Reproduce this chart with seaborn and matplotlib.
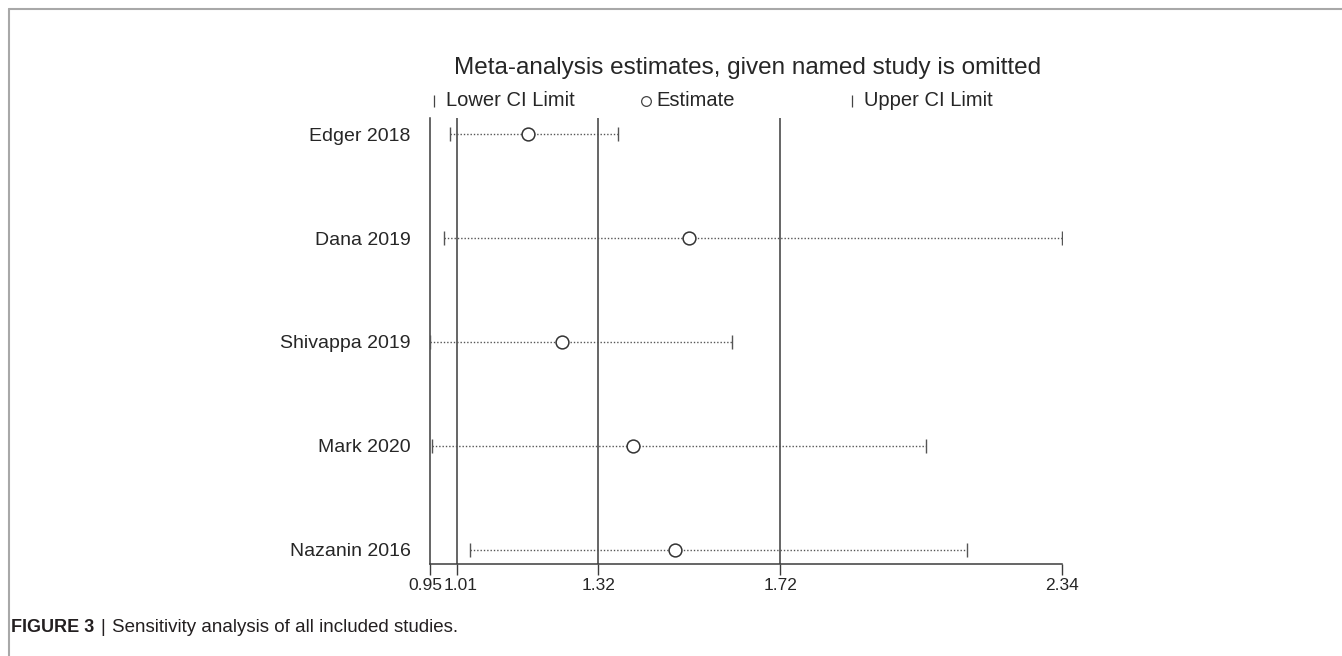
import matplotlib
matplotlib.use('Agg')
import matplotlib.pyplot as plt
import matplotlib.transforms as mtransforms
from matplotlib.lines import Line2D
import seaborn as sns
import pandas as pd

# data: estimate with each study omitted
studies = ['Edger 2018', 'Dana 2019', 'Shivappa 2019', 'Mark 2020', 'Nazanin 2016']
lower = [0.994, 0.981, 0.950, 0.954, 1.038]
estimate = [1.165, 1.520, 1.240, 1.397, 1.489]
upper = [1.363, 2.340, 1.614, 2.041, 2.131]

# combined estimate (lower, est, upper) -> reference lines
combined = [1.01, 1.32, 1.72]
tick_vals = [0.95, 1.01, 1.32, 1.72, 2.34]
tick_labels = ['0.95', '1.01', '1.32', '1.72', '2.34']

df = pd.DataFrame({'study': studies, 'lower': lower, 'est': estimate, 'upper': upper})
df['pos'] = range(len(df))

sns.set_style('white')
plt.rcParams['font.family'] = ['Liberation Sans', 'DejaVu Sans']

LINE = '#3c3c3c'
DOT = '#555555'
W, H = 1342, 656

fig = plt.figure(figsize=(13.42, 6.56), dpi=100)
ax = fig.add_axes([430 / W, 92 / H, 632 / W, 446 / H])

# reference lines of the pooled estimate
for v in combined:
    ax.axvline(v, color=LINE, lw=1.1, zorder=1)

# dotted CI lines + end caps
ax.hlines(df['pos'], df['lower'], df['upper'], colors=DOT,
          linestyles=(0, (1, 1.4)), lw=1.0, zorder=2)
ax.plot(df['lower'], df['pos'], ls='none', marker='|', ms=10, mew=1.0, color=DOT, zorder=3)
ax.plot(df['upper'], df['pos'], ls='none', marker='|', ms=10, mew=1.0, color=DOT, zorder=3)

sns.scatterplot(data=df, x='est', y='pos', ax=ax, marker='o', s=85,
                facecolor='white', edgecolor='#333333', linewidth=1.1, zorder=4, legend=False)

ax.set_xlim(0.95, 2.34)
ax.set_ylim(4.135, -0.154)
ax.set_yticks(df['pos'])
ax.set_yticklabels(df['study'], fontsize=14)
ax.tick_params(axis='y', length=0, pad=14)
ax.set_xticks(tick_vals)
ax.set_xticklabels(tick_labels, fontsize=12.5)
ax.tick_params(axis='x', length=8, width=1.0, color=LINE, direction='out', pad=2, bottom=True)
ax.set_xlabel('')
ax.set_ylabel('')

# nudge the two crowded labels apart like the original
xl = ax.get_xticklabels()
xl[0].set_transform(xl[0].get_transform() + mtransforms.ScaledTranslation(-5 / 100, 0, fig.dpi_scale_trans))
xl[1].set_transform(xl[1].get_transform() + mtransforms.ScaledTranslation(3 / 100, 0, fig.dpi_scale_trans))

for s in ['top', 'right']:
    ax.spines[s].set_visible(False)
for s in ['left', 'bottom']:
    ax.spines[s].set_color(LINE)
    ax.spines[s].set_linewidth(1.1)

# title and legend row
fig.text(748 / W, 1 - 68 / H, 'Meta-analysis estimates, given named study is omitted',
         ha='center', va='center', fontsize=17.5)
ly = 1 - 101 / H
fig.add_artist(Line2D([434 / W], [ly], marker='|', ms=8, mew=0.9, color='#444444', ls='none'))
fig.text(446 / W, ly, 'Lower CI Limit', ha='left', va='center', fontsize=14.5)
fig.add_artist(Line2D([646 / W], [ly], marker='o', ms=7, mew=0.9, mfc='white', mec='#444444', ls='none'))
fig.text(656 / W, ly, 'Estimate', ha='left', va='center', fontsize=14.5)
fig.add_artist(Line2D([852 / W], [ly], marker='|', ms=8, mew=0.9, color='#444444', ls='none'))
fig.text(864 / W, ly, 'Upper CI Limit', ha='left', va='center', fontsize=14.5)

# page frame (top + left)
fig.add_artist(Line2D([9 / W, 1.0], [1 - 9 / H, 1 - 9 / H], color='#a8a8a8', lw=1.5))
fig.add_artist(Line2D([9 / W, 9 / W], [0, 1 - 9 / H], color='#a8a8a8', lw=1.5))

# caption
cap_y = 1 - 628 / H
fig.text(11 / W, cap_y, 'FIGURE 3', ha='left', va='center', fontsize=13,
         fontweight='bold', color='#231f20')
fig.text(100 / W, cap_y, '|', ha='left', va='center', fontsize=13, color='#231f20')
fig.text(112 / W, cap_y, 'Sensitivity analysis of all included studies.', ha='left', va='center',
         fontsize=13.5, color='#231f20')

fig.savefig('out.png', dpi=100, facecolor='white')
